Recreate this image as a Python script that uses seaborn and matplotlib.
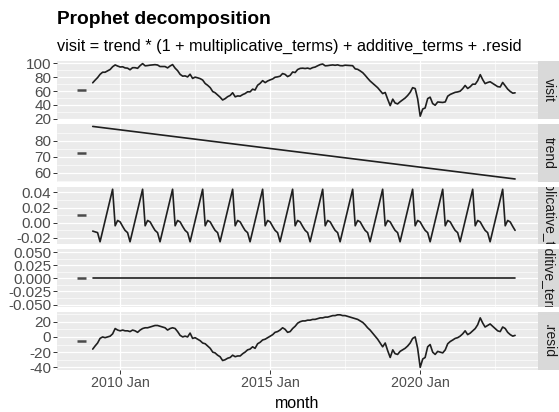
import numpy as np
import pandas as pd
import matplotlib
matplotlib.use("Agg")
import matplotlib.pyplot as plt
import matplotlib.dates as mdates
from matplotlib.ticker import FixedLocator, FuncFormatter
import seaborn as sns

# ---- data -------------------------------------------------------------
months = pd.date_range("2009-02-01", "2023-03-01", freq="MS")

visit = [
    72.0, 75.7, 79.5, 84.2, 87.3, 87.3, 89.3, 91.3, 95.3, 97.9, 96.3,
    94.9, 95.2, 93.6, 93.2, 90.9, 93.9, 93.9, 93.0, 96.9, 99.8, 96.6, 97.0,
    97.6, 97.9, 98.3, 97.8, 95.6, 95.6, 95.6, 93.6, 96.4, 98.4, 93.2, 89.6,
    84.2, 81.6, 82.0, 80.5, 84.4, 78.3, 80.2, 79.2, 78.0, 76.0, 70.9, 68.3,
    64.9, 59.2, 57.6, 54.2, 51.1, 47.0, 48.9, 51.8, 53.6, 57.5, 51.6, 52.9,
    52.6, 54.9, 56.3, 58.9, 58.8, 62.7, 61.5, 68.4, 71.2, 75.1, 72.2, 74.6,
    76.2, 77.6, 80.0, 80.6, 81.5, 85.4, 84.2, 81.0, 82.8, 87.6, 86.9, 91.2,
    92.9, 93.2, 92.7, 93.3, 92.2, 94.0, 94.8, 96.7, 98.4, 99.2, 96.6, 96.9,
    97.5, 97.9, 97.4, 98.0, 96.9, 96.7, 97.5, 97.3, 97.0, 96.8, 92.2, 91.5,
    89.2, 86.6, 83.0, 78.6, 74.6, 71.4, 68.1, 64.9, 60.6, 56.3, 57.9, 48.2,
    38.8, 48.2, 42.7, 41.3, 44.4, 47.1, 49.8, 53.5, 58.1, 64.9, 63.6, 48.8,
    23.5, 33.9, 35.4, 49.0, 51.1, 41.8, 39.4, 44.1, 43.7, 43.4, 44.2, 52.5,
    55.1, 56.6, 58.1, 58.7, 59.8, 63.4, 68.1, 63.7, 66.3, 70.0, 69.9, 75.1,
    83.8, 76.3, 70.8, 72.4, 73.5, 71.1, 68.7, 66.4, 65.9, 72.5, 67.6, 62.8,
    59.4, 56.9, 57.4,
]

# linear trend: value at the first and at the last month
trend_dates = [months[0], months[-1]]
trend_values = [89.0, 56.0]

multiplicative_terms = [
    -0.011, -0.012, -0.013, -0.025, -0.011, 0.003, 0.017, 0.030, 0.044, -0.004, 0.003,
    0.001, -0.005, -0.010, -0.013, -0.025, -0.011, 0.003, 0.017, 0.030, 0.044, -0.004, 0.003,
    0.001, -0.005, -0.010, -0.013, -0.025, -0.011, 0.003, 0.017, 0.030, 0.044, -0.004, 0.003,
    0.001, -0.005, -0.010, -0.013, -0.025, -0.011, 0.003, 0.017, 0.030, 0.044, -0.004, 0.003,
    0.001, -0.005, -0.010, -0.013, -0.025, -0.011, 0.003, 0.017, 0.030, 0.044, -0.004, 0.003,
    0.001, -0.005, -0.010, -0.013, -0.025, -0.011, 0.003, 0.017, 0.030, 0.044, -0.004, 0.003,
    0.001, -0.005, -0.010, -0.013, -0.025, -0.011, 0.003, 0.017, 0.030, 0.044, -0.004, 0.003,
    0.001, -0.005, -0.010, -0.013, -0.025, -0.011, 0.003, 0.017, 0.030, 0.044, -0.004, 0.003,
    0.001, -0.005, -0.010, -0.013, -0.025, -0.011, 0.003, 0.017, 0.030, 0.044, -0.004, 0.003,
    0.001, -0.005, -0.010, -0.013, -0.025, -0.011, 0.003, 0.017, 0.030, 0.044, -0.004, 0.003,
    0.001, -0.005, -0.010, -0.013, -0.025, -0.011, 0.003, 0.017, 0.030, 0.044, -0.004, 0.003,
    0.001, -0.005, -0.010, -0.013, -0.025, -0.011, 0.003, 0.017, 0.030, 0.044, -0.004, 0.003,
    0.001, -0.005, -0.010, -0.013, -0.025, -0.011, 0.003, 0.017, 0.030, 0.044, -0.004, 0.003,
    0.001, -0.005, -0.010, -0.013, -0.025, -0.011, 0.003, 0.017, 0.030, 0.044, -0.004, 0.003,
    0.001, -0.005, -0.010,
]

additive_terms = [0.0] * len(months)

resid = [
    -16, -12, -8, -2, 0, -1, 0, 1, 4, 11, 9,
    8, 9, 8, 8, 7, 9, 8, 6, 9, 11, 12, 12,
    13, 14, 15, 15, 14, 13, 12, 9, 11, 12, 11, 7,
    2, 0, 1, 0, 5, -2, -1, -3, -5, -8, -9, -12,
    -15, -20, -21, -24, -26, -31, -30, -28, -27, -24, -26, -25,
    -25, -22, -20, -17, -16, -13, -15, -9, -7, -4, -3, -1,
    1, 3, 6, 7, 9, 12, 10, 6, 7, 11, 14, 18,
    20, 21, 21, 22, 22, 23, 23, 24, 25, 25, 26, 26,
    27, 28, 28, 29, 29, 28, 28, 27, 26, 25, 24, 23,
    21, 19, 16, 12, 9, 5, 1, -3, -8, -13, -8, -18,
    -27, -17, -22, -23, -19, -17, -15, -12, -8, -2, 0, -15,
    -40, -29, -27, -13, -10, -20, -23, -19, -20, -21, -17, -9,
    -6, -4, -2, -1, 1, 4, 8, 3, 5, 8, 11, 16,
    25, 18, 13, 15, 17, 14, 11, 8, 7, 13, 11, 6,
    3, 1, 2,
]

x_tick_dates = pd.to_datetime(["2010-01-01", "2015-01-01", "2020-01-01"])
x_minor_dates = pd.to_datetime(["2012-07-01", "2017-07-01", "2022-07-01"])

# ---- style ------------------------------------------------------------
sns.set_theme(style="darkgrid")
plt.rcParams["font.family"] = ["Liberation Sans", "DejaVu Sans"]
plt.rcParams["axes.unicode_minus"] = False

W, H = 559, 412
fig = plt.figure(figsize=(W / 100, H / 100), dpi=100)
fig.patch.set_facecolor("white")


def add_px_axes(x0, y0, x1, y1):
    return fig.add_axes([x0 / W, 1 - y1 / H, (x1 - x0) / W, (y1 - y0) / H])


LEFT, RIGHT, STRIP_W = 57, 538, 21
TOP, BOTTOM, GAP = 61, 370, 5
n_panels = 5
ph = (BOTTOM - TOP - GAP * (n_panels - 1)) / n_panels

xlim = (pd.Timestamp("2007-11-24"), pd.Timestamp("2023-12-05"))
bar_x = (pd.Timestamp("2008-07-20"), pd.Timestamp("2008-11-15"))

LINE_COLOR = "#1f1f1f"
panels = [
    ("visit", months, visit, [20, 40, 60, 80, 100], "{:.0f}"),
    ("trend", trend_dates, trend_values, [60, 70, 80], "{:.0f}"),
    ("multiplicative_terms", months, multiplicative_terms, [-0.02, 0.0, 0.02, 0.04], "{:.2f}"),
    ("additive_terms", months, additive_terms, [-0.05, -0.025, 0.0, 0.025, 0.05], "{:.3f}"),
    (".resid", months, resid, [-40, -20, 0, 20], "{:.0f}"),
]

for i, (name, xs, ys, yticks, fmt) in enumerate(panels):
    y0 = TOP + i * (ph + GAP)
    y1 = y0 + ph
    ax = add_px_axes(LEFT, y0, RIGHT, y1)
    df = pd.DataFrame({"month": xs, "value": ys})
    sns.lineplot(data=df, x="month", y="value", ax=ax, color=LINE_COLOR,
                 linewidth=1.2, zorder=3)

    vals = np.asarray(ys, dtype=float)
    lo, hi = vals.min(), vals.max()
    if hi - lo == 0:
        lo, hi = lo - 0.05, hi + 0.05
    pad = (hi - lo) * 0.05
    ax.set_ylim(lo - pad, hi + pad)
    ax.set_xlim(*xlim)

    # scale bar at the middle of the series' range
    mid = (vals.min() + vals.max()) / 2
    ax.hlines(mid, bar_x[0], bar_x[1], color="#4a4a4a", linewidth=1.8, zorder=3)

    ax.set_facecolor("#EBEBEB")
    for sp in ax.spines.values():
        sp.set_visible(False)
    ax.yaxis.set_major_locator(FixedLocator(yticks))
    step = yticks[1] - yticks[0]
    ax.yaxis.set_minor_locator(FixedLocator([t + step / 2 for t in yticks[:-1]]
                                            + [yticks[0] - step / 2, yticks[-1] + step / 2]))
    ax.yaxis.set_major_formatter(FuncFormatter(lambda v, p, f=fmt: f.format(v)))
    ax.xaxis.set_major_locator(FixedLocator(mdates.date2num(x_tick_dates)))
    ax.xaxis.set_minor_locator(FixedLocator(mdates.date2num(x_minor_dates)))
    ax.xaxis.set_major_formatter(mdates.DateFormatter("%Y %b"))
    ax.grid(which="major", color="white", linewidth=0.9)
    ax.grid(which="minor", color="white", linewidth=0.45)
    ax.set_axisbelow(True)
    ax.set_xlabel("")
    ax.set_ylabel("")
    ax.tick_params(axis="y", which="major", left=True, length=2.6, width=0.7,
                   color="#333333", labelcolor="#4D4D4D", labelsize=11, pad=1.5)
    ax.tick_params(axis="both", which="minor", length=0)
    if i == n_panels - 1:
        ax.tick_params(axis="x", which="major", bottom=True, length=2.6, width=0.7,
                       color="#333333", labelcolor="#4D4D4D", labelsize=10.3, pad=2)
    else:
        ax.tick_params(axis="x", which="major", bottom=False, labelbottom=False)

    sax = add_px_axes(RIGHT, y0, RIGHT + STRIP_W, y1)
    sax.set_facecolor("#D9D9D9")
    for sp in sax.spines.values():
        sp.set_visible(False)
    sax.set_xticks([])
    sax.set_yticks([])
    sax.grid(False)
    sax.text(0.5, 0.5, name, rotation=-90, ha="center", va="center",
             fontsize=10, color="#1A1A1A", transform=sax.transAxes, clip_on=True)

fig.text(LEFT / W, 1 - 20 / H, "Prophet decomposition", fontsize=13.8,
         fontweight="bold", va="center", ha="left", color="black")
fig.text(LEFT / W, 1 - 46 / H,
         "visit = trend * (1 + multiplicative_terms) + additive_terms + .resid",
         fontsize=11.7, va="center", ha="left", color="black")
fig.text((LEFT + RIGHT) / 2 / W, 1 - 403 / H, "month", fontsize=11.5,
         va="center", ha="center", color="black")

fig.savefig("out.png", dpi=100, facecolor="white")
